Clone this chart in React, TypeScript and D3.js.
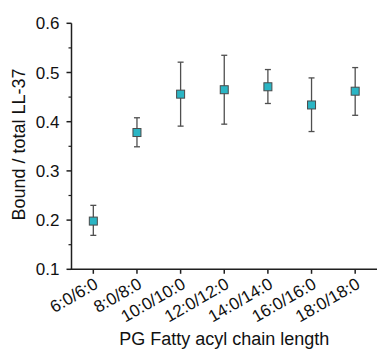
import * as d3 from "d3";

// ---------------------------------------------------------------------------
// Data
// ---------------------------------------------------------------------------

const CATEGORIES = [
  "6:0/6:0",
  "8:0/8:0",
  "10:0/10:0",
  "12:0/12:0",
  "14:0/14:0",
  "16:0/16:0",
  "18:0/18:0",
];
const MEANS = [0.198, 0.378, 0.456, 0.465, 0.471, 0.434, 0.462];
const UPPER = [0.23, 0.408, 0.521, 0.535, 0.506, 0.489, 0.51];
const LOWER = [0.169, 0.349, 0.391, 0.395, 0.437, 0.38, 0.413];
const Y_TICKS = [0.1, 0.2, 0.3, 0.4, 0.5, 0.6];
const Y_MINOR = [0.15, 0.25, 0.35, 0.45, 0.55];

// ---------------------------------------------------------------------------
// Style / layout
// ---------------------------------------------------------------------------

const W = 378;
const H = 349;
const X0 = 71.5;
const X1 = 377;
const Y_TOP = 23.3;
const Y_BOT = 269.3;
const FONT = "'Liberation Sans', Arial, Helvetica, sans-serif";
const AXIS = "#1f1f1f";
const MARKER_FILL = "#2bb5c4";
const MARKER_STROKE = "#4a4a4a";
const ERR = "#4f4f4f";

export default function App() {
  const x = d3.scalePoint<string>().domain(CATEGORIES).range([X0, X1]).padding(0.5);
  const y = d3.scaleLinear().domain([0.1, 0.6]).range([Y_BOT, Y_TOP]);
  const fmt = d3.format(".1f");
  const cap = 3;
  const m = 4;

  return (
    <div style={{ position: "absolute", left: 0, top: 0 }}>
      <svg width={W} height={H} style={{ display: "block", background: "#fff" }}>
        {/* error bars + markers */}
        {CATEGORIES.map((c, i) => {
          const cx = x(c) ?? 0;
          return (
            <g key={c}>
              <line x1={cx} x2={cx} y1={y(UPPER[i])} y2={y(LOWER[i])} stroke={ERR} strokeWidth={1.3} />
              <line x1={cx - cap} x2={cx + cap} y1={y(UPPER[i])} y2={y(UPPER[i])} stroke={ERR} strokeWidth={1.3} />
              <line x1={cx - cap} x2={cx + cap} y1={y(LOWER[i])} y2={y(LOWER[i])} stroke={ERR} strokeWidth={1.3} />
              <rect
                x={cx - m}
                y={y(MEANS[i]) - m}
                width={2 * m}
                height={2 * m}
                fill={MARKER_FILL}
                stroke={MARKER_STROKE}
                strokeWidth={1}
              />
            </g>
          );
        })}

        {/* y axis */}
        <line x1={X0} x2={X0} y1={Y_TOP} y2={Y_BOT} stroke={AXIS} strokeWidth={1.5} />
        {Y_TICKS.map((t) => (
          <g key={t}>
            <line x1={X0 - 5} x2={X0} y1={y(t)} y2={y(t)} stroke={AXIS} strokeWidth={1.5} />
            <text
              x={X0 - 12}
              y={y(t)}
              dy="0.36em"
              textAnchor="end"
              fontSize={17}
              fontFamily={FONT}
              fill="#111"
            >
              {fmt(t)}
            </text>
          </g>
        ))}
        {Y_MINOR.map((t) => (
          <line key={t} x1={X0 - 3} x2={X0} y1={y(t)} y2={y(t)} stroke={AXIS} strokeWidth={1.2} />
        ))}

        {/* x axis */}
        <line x1={X0 - 0.75} x2={X1} y1={Y_BOT} y2={Y_BOT} stroke={AXIS} strokeWidth={1.5} />
        {CATEGORIES.map((c) => {
          const cx = x(c) ?? 0;
          return (
            <g key={c}>
              <line x1={cx} x2={cx} y1={Y_BOT} y2={Y_BOT + 4.5} stroke={AXIS} strokeWidth={1.5} />
              <text
                transform={`translate(${cx + 6},${Y_BOT + 18}) rotate(-30)`}
                textAnchor="end"
                fontSize={17}
                fontFamily={FONT}
                fill="#111"
              >
                {c}
              </text>
            </g>
          );
        })}

        {/* axis titles */}
        <text
          x={(X0 + X1) / 2}
          y={345}
          textAnchor="middle"
          fontSize={18}
          fontFamily={FONT}
          fill="#111"
        >
          PG Fatty acyl chain length
        </text>
        <text
          transform={`translate(25,${(68 + 221) / 2}) rotate(-90)`}
          textAnchor="middle"
          fontSize={18}
          fontFamily={FONT}
          fill="#111"
        >
          Bound / total LL-37
        </text>
      </svg>
    </div>
  );
}
